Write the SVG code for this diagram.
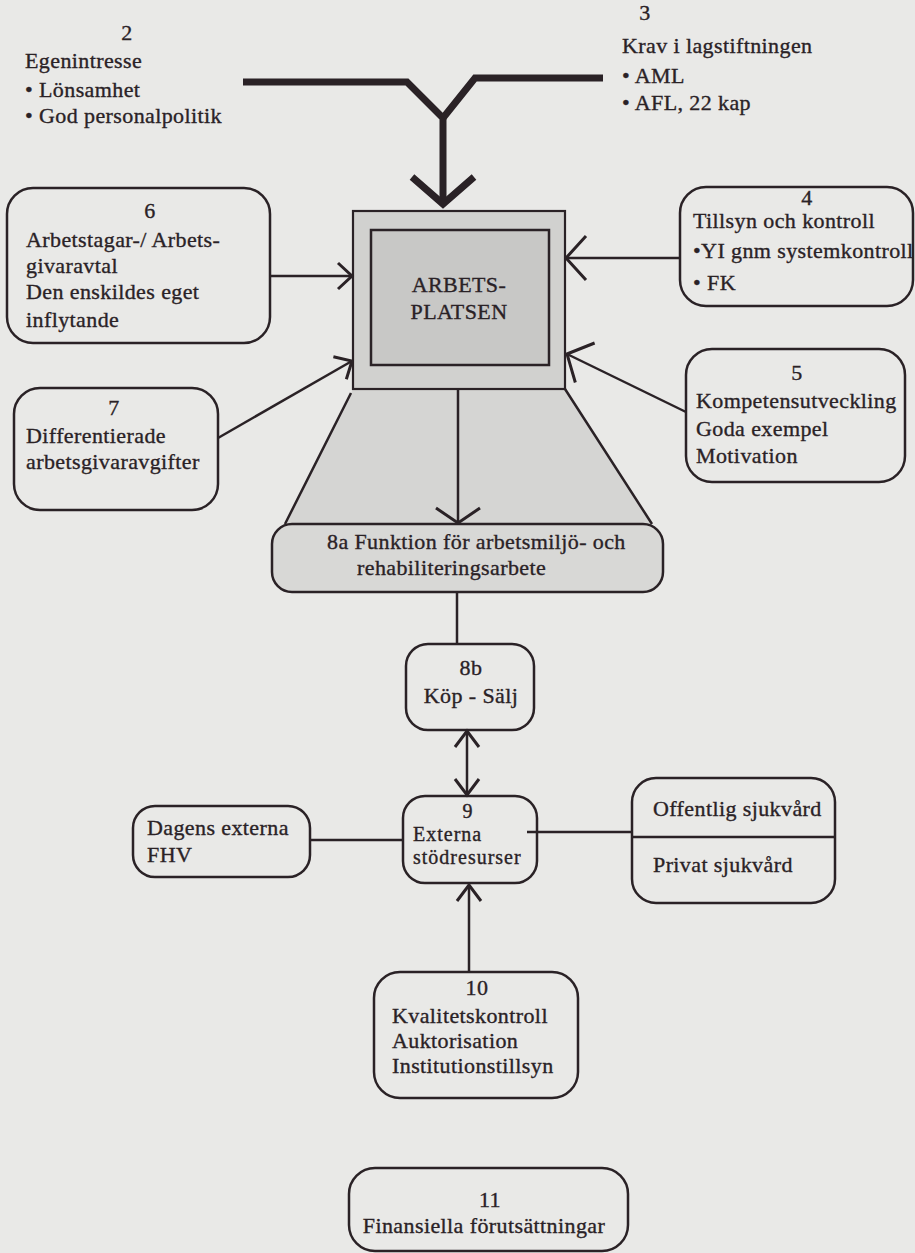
<svg xmlns="http://www.w3.org/2000/svg" width="915" height="1253" viewBox="0 0 915 1253">
<defs>
<style>
text{font-family:"Liberation Serif","Times New Roman",serif;font-size:22px;letter-spacing:0.4px;fill:#2a2226;stroke:#2a2226;stroke-width:0.35}
.c{text-anchor:middle}
.s{font-size:20px;letter-spacing:1px}
.box{fill:none;stroke:#2a2226;stroke-width:2.5}
.ln{fill:none;stroke:#2a2226;stroke-width:2.5}
.thick{fill:none;stroke:#2a2226;stroke-width:7;stroke-linejoin:miter}
.ah{fill:none;stroke:#2a2226;stroke-width:3;stroke-linejoin:miter}
</style>
<marker id="a1" markerUnits="userSpaceOnUse" markerWidth="40" markerHeight="40" viewBox="-20 -20 40 40" refX="0" refY="0" orient="auto" overflow="visible"><path class="ah" d="M-14,-13 L0,0 L-14,13"/></marker>
<marker id="a2" markerUnits="userSpaceOnUse" markerWidth="50" markerHeight="50" viewBox="-25 -25 50 50" refX="0" refY="0" orient="auto" overflow="visible"><path class="ah" d="M-20,-22 L0,0 L-20,22"/></marker>
<marker id="a3" markerUnits="userSpaceOnUse" markerWidth="50" markerHeight="50" viewBox="-25 -25 50 50" refX="0" refY="0" orient="auto" overflow="visible"><path class="ah" d="M-15,-22 L0,0 L-15,22"/></marker>
<marker id="a4" markerUnits="userSpaceOnUse" markerWidth="40" markerHeight="40" viewBox="-20 -20 40 40" refX="0" refY="0" orient="auto" overflow="visible"><path class="ah" d="M-16,-12 L0,0 L-16,12"/></marker>
<marker id="a4s" markerUnits="userSpaceOnUse" markerWidth="40" markerHeight="40" viewBox="-20 -20 40 40" refX="0" refY="0" orient="auto-start-reverse" overflow="visible"><path class="ah" d="M-16,-12 L0,0 L-16,12"/></marker>
</defs>
<rect x="0" y="0" width="915" height="1253" fill="#e9e9e7"/>

<g id="n2">
<text class="c" x="127" y="40">2</text>
<text x="25" y="68">Egenintresse</text>
<text x="25" y="97">• Lönsamhet</text>
<text x="25" y="123">• God personalpolitik</text>
</g>

<g id="n3">
<text class="c" x="645" y="20">3</text>
<text x="622" y="53">Krav i lagstiftningen</text>
<text x="622" y="83">• AML</text>
<text x="622" y="110">• AFL, 22 kap</text>
</g>

<g id="n8-trap">
<polygon points="353,389 565,389 652,524 285,524" fill="#d5d5d3" stroke="none"/>
<path class="ln" d="M351,393 L285,524 M565,389 L652,524"/>
</g>

<g id="n1">
<rect x="353" y="211" width="212" height="178" fill="#d1d1cf" stroke="#2a2226" stroke-width="2.2"/>
<rect x="371" y="230" width="178" height="135" fill="#c8c8c6" stroke="#2a2226" stroke-width="2.5"/>
<text class="c" x="459" y="292">ARBETS-</text>
<text class="c" x="459" y="319">PLATSEN</text>
</g>

<g id="n6">
<rect class="box" x="7" y="188" width="263" height="155" rx="26"/>
<text class="c" x="150" y="218">6</text>
<text x="26" y="247">Arbetstagar-/ Arbets-</text>
<text x="26" y="273">givaravtal</text>
<text x="26" y="299">Den enskildes eget</text>
<text x="26" y="327">inflytande</text>
</g>

<g id="n7">
<rect class="box" x="14" y="388" width="204" height="122" rx="26"/>
<text class="c" x="114" y="415">7</text>
<text x="26" y="443">Differentierade</text>
<text x="26" y="469">arbetsgivaravgifter</text>
</g>

<g id="n4">
<rect class="box" x="680" y="187" width="233" height="119" rx="26"/>
<text class="c" x="807" y="205">4</text>
<text x="693" y="228">Tillsyn och kontroll</text>
<text x="693" y="258">•YI gnm systemkontroll</text>
<text x="693" y="290">• FK</text>
</g>

<g id="n5">
<rect class="box" x="686" y="349" width="219" height="133" rx="26"/>
<text class="c" x="797" y="380">5</text>
<text x="696" y="408">Kompetensutveckling</text>
<text x="696" y="436">Goda exempel</text>
<text x="696" y="463">Motivation</text>
</g>

<g id="n8a">
<rect x="272" y="524" width="391" height="68" rx="20" fill="#d8d8d6" stroke="#2a2226" stroke-width="2.5"/>
<text x="327" y="549">8a Funktion för arbetsmiljö- och</text>
<text x="357" y="575">rehabiliteringsarbete</text>
</g>

<g id="n8b">
<rect class="box" x="406" y="644" width="128" height="86" rx="22"/>
<text class="c" x="471" y="675">8b</text>
<text class="c" x="471" y="703">Köp - Sälj</text>
</g>

<g id="n9">
<rect class="box" x="403" y="796" width="134" height="87" rx="22"/>
<text class="c s" x="468" y="818">9</text>
<text class="s" x="413" y="841">Externa</text>
<text class="s" x="413" y="864">stödresurser</text>
</g>

<g id="nFHV">
<rect class="box" x="133" y="806" width="177" height="71" rx="22"/>
<text x="147" y="835">Dagens externa</text>
<text x="147" y="862">FHV</text>
</g>

<g id="nSjukvard">
<rect class="box" x="632" y="778" width="203" height="125" rx="24"/>
<line class="ln" x1="632" y1="837" x2="835" y2="837"/>
<text x="653" y="816">Offentlig sjukvård</text>
<text x="653" y="872">Privat sjukvård</text>
</g>

<g id="n10">
<rect class="box" x="374" y="972" width="204" height="126" rx="26"/>
<text class="c" x="477" y="995">10</text>
<text x="392" y="1023">Kvalitetskontroll</text>
<text x="392" y="1048">Auktorisation</text>
<text x="392" y="1073">Institutionstillsyn</text>
</g>

<g id="n11">
<rect class="box" x="349" y="1168" width="279" height="83" rx="26"/>
<text class="c" x="490" y="1207">11</text>
<text class="c" x="484" y="1233">Finansiella förutsättningar</text>
</g>

<g id="connectors">
<path class="thick" d="M243,82 L407,82 L443,118 L443,203"/>
<path class="thick" d="M603,78 L475,78 L443,118"/>
<path class="thick" d="M412,177 L443,204 L474,177"/>
<line class="ln" x1="270" y1="276" x2="352" y2="276" marker-end="url(#a1)"/>
<line class="ln" x1="218" y1="438" x2="352" y2="361" marker-end="url(#a1)"/>
<line class="ln" x1="680" y1="258" x2="566" y2="258" marker-end="url(#a2)"/>
<line class="ln" x1="686" y1="412" x2="567" y2="354" marker-end="url(#a2)"/>
<line class="ln" x1="458" y1="389" x2="458" y2="523" marker-end="url(#a3)"/>
<line class="ln" x1="457" y1="592" x2="457" y2="644"/>
<line class="ln" x1="467" y1="731" x2="467" y2="795" marker-start="url(#a4s)" marker-end="url(#a4)"/>
<line class="ln" x1="469" y1="972" x2="469" y2="885" marker-end="url(#a4)"/>
<line class="ln" x1="310" y1="840" x2="403" y2="840"/>
<line class="ln" x1="527" y1="832" x2="632" y2="832"/>
</g>
</svg>
